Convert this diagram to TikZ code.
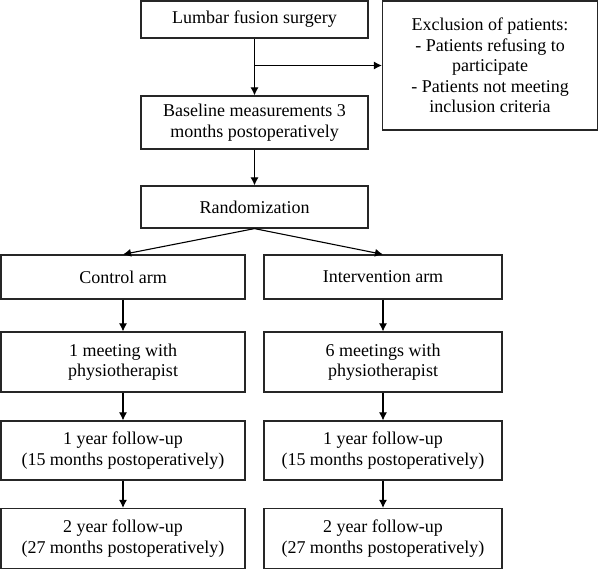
\documentclass[tikz,border=0pt]{standalone}
\usepackage{fontspec}
\setmainfont{Liberation Serif}
\usetikzlibrary{arrows.meta}

\tikzset{
    flowbox/.style={draw=black!85, line width=1.2pt, rectangle, align=center,
        inner sep=0pt, font=\fontsize{18}{20.5}\selectfont},
    flowarrow/.style={line width=1.1pt, -{Latex[length=8pt,width=8pt]}}
}

\begin{document}
\begin{tikzpicture}[x=1pt,y=-1pt]
        \useasboundingbox (0,0) rectangle (600,570);
        % top column
        \node[flowbox, minimum width=227pt, minimum height=37pt] (surgery) at (254.5,19.5) {Lumbar fusion surgery};
        \node[flowbox, minimum width=215pt, minimum height=129pt] (excl) at (490,65.5)
            {Exclusion of patients:\\- Patients refusing to\\participate\\- Patients not meeting\\inclusion criteria};
        \node[flowbox, minimum width=227pt, minimum height=53pt] (baseline) at (254.5,122.5)
            {Baseline measurements 3\\months postoperatively};
        \node[flowbox, minimum width=227pt, minimum height=42pt] (random) at (254.5,207) {Randomization};
        % two arms
        \foreach \arm/\xc/\boxw/\armname/\meet in {ctrl/123/244/Control arm/1 meeting with, int/383/238/Intervention arm/6 meetings with} {
            \node[flowbox, minimum width=\boxw pt, minimum height=44pt] (\arm arm) at (\xc,277) {\armname};
            \node[flowbox, minimum width=\boxw pt, minimum height=60pt] (\arm meet) at (\xc,362) {\meet\\physiotherapist};
            \node[flowbox, minimum width=\boxw pt, minimum height=59pt] (\arm fuone) at (\xc,450.5) {1 year follow-up\\(15 months postoperatively)};
            \node[flowbox, minimum width=\boxw pt, minimum height=60pt] (\arm futwo) at (\xc,538.5) {2 year follow-up\\(27 months postoperatively)};
            \draw[flowarrow] (\arm arm) -- (\arm meet);
            \draw[flowarrow] (\arm meet) -- (\arm fuone);
            \draw[flowarrow] (\arm fuone) -- (\arm futwo);
        }
        % connectors
        \draw[flowarrow] (surgery) -- (baseline);
        \coordinate (split) at (surgery.south |- excl.west);
        \draw[flowarrow] (split) -- (excl.west);
        \draw[flowarrow] (baseline) -- (random);
        \draw[flowarrow] (random.south) -- (ctrlarm.north);
        \draw[flowarrow] (random.south) -- (intarm.north);
    \end{tikzpicture}
\end{document}
